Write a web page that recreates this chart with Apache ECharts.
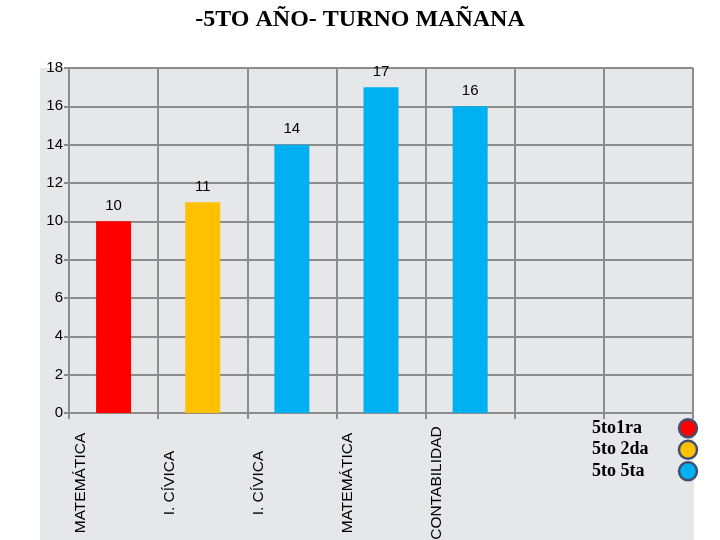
<!DOCTYPE html>
<html><head><meta charset="utf-8">
<script src="https://cdn.jsdelivr.net/npm/echarts@6/dist/echarts.min.js"></script>
<style>html,body{margin:0;padding:0;background:#fff}#c{width:720px;height:540px}</style>
</head><body><div id="c"></div>
<script>
const categories = ['MATEMÁTICA', 'I. CÍVICA', 'I. CÍVICA', 'MATEMÁTICA', 'CONTABILIDAD', '', ''];
const s1Name = '5to1ra';
const s2Name = '5to 2da';
const s3Name = '5to 5ta';
const s1Values = [10, '-', '-', '-', '-', '-', '-'];
const s2Values = ['-', 11, '-', '-', '-', '-', '-'];
const s3Values = ['-', '-', 14, 17, 16, '-', '-'];
const yTicks = { min: 0, max: 18, interval: 2 };

const chart = echarts.init(document.getElementById('c'));
const lbl = { show: true, position: 'top', distance: 8, color: '#000', fontSize: 15, fontFamily: 'Liberation Sans' };
function bar(name, data, color) {
  return { name, type: 'bar', stack: 'all', data, barWidth: 35, itemStyle: { color }, label: lbl };
}
chart.setOption({
  animation: false,
  title: { text: '-5TO AÑO- TURNO MAÑANA', left: 'center', top: 3,
    textStyle: { fontFamily: 'Liberation Serif', fontWeight: 'bold', fontSize: 24, color: '#000' } },
  graphic: [{ type: 'rect', z: -10, silent: true, shape: { x: 40, y: 68, width: 654, height: 472 }, style: { fill: '#E6E7E9' } }],
  grid: { left: 69, right: 27, top: 68, bottom: 127, containLabel: false, outerBoundsMode: 'none' },
  legend: {
    orient: 'vertical', left: 592, top: 418, padding: 0, itemGap: 1, align: 'right',
    itemWidth: 18, itemHeight: 18, icon: 'circle',
    itemStyle: { borderColor: '#3F5070', borderWidth: 2.5 },
    formatter: '{t|{name}}',
    textStyle: { fontFamily: 'Liberation Serif', fontWeight: 'bold', fontSize: 18, color: '#000', lineHeight: 18,
      rich: { t: { width: 82, align: 'left', fontFamily: 'Liberation Serif', fontWeight: 'bold', fontSize: 18, lineHeight: 18, color: '#000' } } },
    data: [s1Name, s2Name, s3Name]
  },
  xAxis: {
    type: 'category', data: categories,
    axisLine: { lineStyle: { color: '#8C8C8C', width: 2 } },
    axisTick: { show: true, length: 6, lineStyle: { color: '#8C8C8C', width: 2 } },
    splitLine: { show: true, lineStyle: { color: '#8C8C8C', width: 2 } },
    axisLabel: { interval: 0, rotate: 90, align: 'center', verticalAlign: 'bottom', lineHeight: 66, margin: 70,
      fontFamily: 'Liberation Sans', fontSize: 15.5, color: '#000' }
  },
  yAxis: {
    type: 'value', min: yTicks.min, max: yTicks.max, interval: yTicks.interval,
    axisLine: { show: true, lineStyle: { color: '#8C8C8C', width: 2 } },
    axisTick: { show: true, length: 5, lineStyle: { color: '#8C8C8C', width: 2 } },
    splitLine: { show: true, lineStyle: { color: '#8C8C8C', width: 2 } },
    axisLabel: { margin: 6, fontFamily: 'Liberation Sans', fontSize: 15, color: '#000' }
  },
  series: [bar(s1Name, s1Values, '#FF0000'), bar(s2Name, s2Values, '#FFC000'), bar(s3Name, s3Values, '#00B0F0')]
});
</script></body></html>
